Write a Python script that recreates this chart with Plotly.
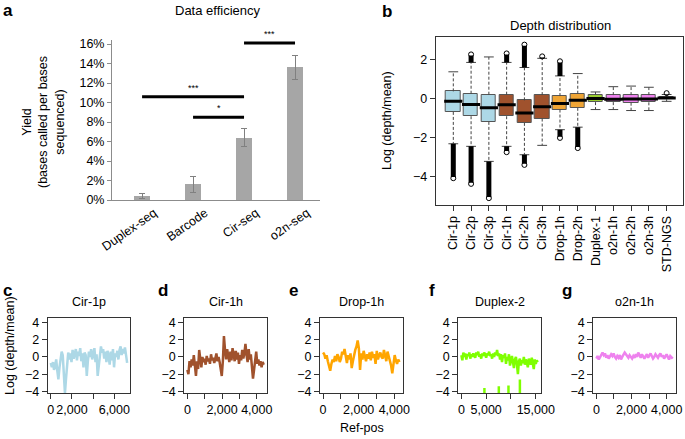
import plotly.graph_objects as go

W, H = 685, 439
def px(x): return x / W
def py(y): return 1 - y / H

FONT = "Liberation Sans, Arial, Helvetica, sans-serif"

# ---------------- Panel a data ----------------
methods = ["Duplex-seq", "Barcode", "Cir-seq", "o2n-seq"]
yield_pct = [0.4, 1.6, 6.4, 13.6]
yield_err = [0.25, 0.8, 0.9, 1.25]
sig_from = [0, 1, 2]
sig_to = [2, 2, 3]
sig_y = [10.6, 8.5, 16.1]
sig_label = ["***", "*", "***"]
yield_ticks = [0, 2, 4, 6, 8, 10, 12, 14, 16]

# ---------------- Panel b data ----------------
samples = ["Cir-1p", "Cir-2p", "Cir-3p", "Cir-1h", "Cir-2h", "Cir-3h",
           "Drop-1h", "Drop-2h", "Duplex-1", "o2n-1h", "o2n-2h", "o2n-3h", "STD-NGS"]
box_q1 = [-0.69, -0.91, -1.20, -0.91, -1.25, -1.03, -0.57, -0.48, -0.19, -0.19, -0.22, -0.20, -0.05]
box_med = [-0.14, -0.31, -0.48, -0.33, -0.74, -0.43, -0.26, -0.09, 0.00, -0.04, -0.03, -0.03, 0.02]
box_q3 = [0.36, 0.24, 0.19, 0.19, -0.10, 0.17, 0.12, 0.24, 0.20, 0.17, 0.17, 0.17, 0.09]
whisk_lo = [-2.32, -2.45, -3.22, -2.45, -2.88, -2.40, -1.60, -1.47, -0.57, -0.57, -0.62, -0.62, -0.15]
whisk_hi = [1.36, 1.84, 2.12, 1.84, 1.58, 2.05, 1.15, 1.27, 0.33, 0.60, 0.63, 0.57, 0.20]
box_colors = ["#ADD8E6", "#ADD8E6", "#ADD8E6", "#A0522D", "#A0522D", "#A0522D",
              "#EFA536", "#EFA536", "#9ACD32", "#EE82EE", "#EE82EE", "#EE82EE", "#EE82EE"]
# outlier clouds: (sample index 1-based, start, extreme)
out_pos = [1, 2, 2, 3, 4, 4, 5, 5, 6, 7, 7, 8, 13]
out_start = [-2.32, 1.84, -2.45, -3.22, 1.84, -2.45, 1.58, -2.88, 2.05, 1.15, -1.60, -1.47, 0.27]
out_end = [-4.08, 2.25, -4.37, -5.10, 2.30, -2.75, 2.75, -3.40, 2.15, 1.90, -2.02, -2.54, 0.27]

# ---------------- Panels c-g data ----------------
cov_names = ["Cir-1p", "Cir-1h", "Drop-1h", "Duplex-2", "o2n-1h"]
cov_colors = ["#ADD8E6", "#A0522D", "#FFA500", "#7FFF00", "#EE82EE"]
cov_step = [103, 62, 67, 200, 70]
cov_cir1p = [-0.7, -1.2, -0.6, -1.5, -1.0, -0.3, -1.6, -2.6, -1.2, -0.2, 0.6, 0.2, -2.0, -4.2, -2.5,
             -0.8, 0.5, -0.3, 0.4, -0.6, 0.8, -0.2, 0.3, 0.9, -0.4, 0.6, 0.1, 1.0, -0.5, 0.4,
             -1.2, 0.5, 0.2, -2.2, -0.5, 0.6, 0.0, 0.9, -0.3, 0.5, 1.0, -0.6, 0.3, -2.2, -0.8,
             0.4, 1.2, 0.5, 0.9, -0.2, 0.6, -0.6, 0.7, 0.1, -0.9, 0.6, -0.4, 0.9, -1.2, 0.4,
             0.0, 0.7, -0.3, 0.8, 1.2, 0.2, 0.9, 0.4, 1.1, 0.2, -0.7]
cov_cir1h = [-1.5, -2.0, -0.5, -1.2, -0.3, -1.0, 0.2, -0.8, -2.2, -0.5, -1.4, 0.8, -0.4, -1.2, 0.0,
             -0.6, -0.2, -0.9, 0.1, -0.5, -0.2, -0.8, 0.3, -0.4, -0.1, -0.7, -0.2, 0.4, -0.5, 0.0,
             -0.6, -1.5, -2.2, -0.5, 2.4, 0.8, -0.3, 0.9, 0.0, -0.6, 0.6, -0.4, 1.0, 0.2, -0.5,
             0.7, -0.3, 0.5, -0.8, 0.2, -0.4, 0.8, -0.2, 0.4, 1.5, 0.2, -0.6, 0.9, -0.3, 0.3,
             -1.0, -2.5, -1.5, -0.2, 0.6, -0.8, -0.3, -1.0, -0.5, -1.2, -0.6, -0.9]
cov_drop1h = [0.5, 0.3, -0.2, 0.2, -0.5, -1.0, -1.6, -0.8, -0.3, -0.6, 0.1, -0.5, 0.3, 0.0, -0.6,
              -0.2, 0.6, 0.3, 0.9, 0.1, -0.7, 0.2, -0.3, 0.4, -1.3, -0.5, 0.3, 0.8, 1.2, 1.9,
              1.0, -1.5, 0.4, -0.3, 0.7, 0.0, -0.5, 0.3, -0.2, 0.5, -0.4, 0.6, -0.1, 0.3, -0.8,
              0.7, -0.3, 0.2, 0.5, 0.0, -0.2, 0.8, 0.3, -0.5, 0.6, 0.1, -0.3, -1.0, -1.9, -0.7,
              0.2, -0.4, -0.8, -0.3, -0.6]
cov_duplex2 = [0.2, -0.4, 0.5, 0.0, 0.4, -0.3, 0.3, 0.1, 0.5, -0.2, 0.3, 0.0, 0.4, 0.2, -0.1,
               0.5, 0.2, 0.6, 0.0, 0.3, -0.2, 0.4, 0.1, 0.5, 0.3, -0.1, 0.4, 0.2, 0.6, 0.1,
               0.3, -0.2, 0.4, 0.0, 0.5, 0.2, 0.8, 0.1, 0.4, -0.3, 0.3, -0.6, 0.2, -0.1, 0.4,
               -0.8, 0.0, -0.4, 0.3, -1.0, -0.2, 0.1, -0.6, -1.3, -0.3, 0.0, -0.8, -2.0, -0.5, -0.2,
               -1.0, -0.4, -0.7, 0.0, -0.9, -0.3, -0.6, -1.2, -0.2, -0.5, -0.9, -0.1, -0.6, -1.4, -0.3,
               -0.8, -0.4, -0.6]
cov_o2n1h = [-0.2, 0.1, -0.3, 0.0, 0.3, 0.5, 0.2, 0.4, -0.1, 0.2, -0.2, 0.0, 0.3, 0.1, 0.4,
             0.0, -0.2, 0.1, -0.1, 0.2, -0.3, 0.0, 0.2, 0.5, 0.3, 0.0, -0.1, 0.2, 0.0, -0.2,
             0.1, -0.1, 0.3, 0.0, 0.5, 0.2, -0.1, 0.3, 0.0, -0.2, 0.1, 0.3, -0.1, 0.2, 0.4,
             0.1, -0.2, 0.0, 0.3, 0.1, -0.1, 0.2, 0.4, 0.0, 0.2, -0.2, 0.1, 0.3, 0.0, -0.3,
             0.1, 0.0, -0.2]
cov_series = [cov_cir1p, cov_cir1h, cov_drop1h, cov_duplex2, cov_o2n1h]
# Duplex-2 zero-coverage drops (x position, top value)
drop_x = [4650, 7550, 9500, 11800]
drop_top = [-3.6, -3.4, -3.3, -2.6]
drop_bottom = [-5.0, -5.0, -5.0, -5.0]
cov_xticks = [[0, 2000, 4000, 6000], [0, 1000, 2000, 3000, 4000], [0, 1000, 2000, 3000, 4000],
              [0, 5000, 10000, 15000], [0, 1000, 2000, 3000, 4000]]
cov_xticktext = [["0", "2,000", "", "6,000"], ["0", "", "2,000", "", "4,000"],
                 ["0", "", "2,000", "", "4,000"], ["0", "5,000", "", "15,000"],
                 ["0", "", "2,000", "", "4,000"]]

fig = go.Figure()

# ---- Panel a ----
fig.add_trace(go.Bar(x=list(range(len(methods))), y=yield_pct, width=0.32,
                     marker=dict(color="#A6A6A6", line=dict(width=0)),
                     error_y=dict(type="data", array=yield_err, color="#808080", thickness=1, width=3),
                     xaxis="x", yaxis="y", showlegend=False))
sx, sy = [], []
for a, b, yv in zip(sig_from, sig_to, sig_y):
    sx += [a, b, None]
    sy += [yv, yv, None]
fig.add_trace(go.Scatter(x=sx, y=sy, mode="lines", line=dict(color="black", width=3),
                         xaxis="x", yaxis="y", showlegend=False))

# axis a geometry (pixels) for placing star labels
A_X0, A_XPX, A_Y0, A_YPX = 142.0, 51.0, 200.0, 9.75
annotations = []
for a, b, yv, lab in zip(sig_from, sig_to, sig_y, sig_label):
    xp = A_X0 + (a + b) / 2 * A_XPX
    yp = A_Y0 - yv * A_YPX - 9
    annotations.append(dict(x=px(xp), y=py(yp), xref="paper", yref="paper", text=lab, showarrow=False,
                            xanchor="center", yanchor="middle",
                            font=dict(size=9, color="black", family=FONT)))

# ---- Panel b ----
pos = list(range(1, len(samples) + 1))
wx, wy = [], []
for p, lo, hi, a, b in zip(pos, whisk_lo, whisk_hi, box_q1, box_q3):
    wx += [p, p, None, p, p, None]
    wy += [b, hi, None, a, lo, None]
fig.add_trace(go.Scatter(x=wx, y=wy, mode="lines", line=dict(color="#444444", width=1, dash="3px,2px"),
                         xaxis="x2", yaxis="y2", showlegend=False))
fig.add_trace(go.Scatter(x=pos + pos, y=whisk_hi + whisk_lo, mode="markers",
                         marker=dict(symbol="line-ew", size=7, line=dict(width=1, color="#444444")),
                         xaxis="x2", yaxis="y2", showlegend=False))
fig.add_trace(go.Bar(x=pos, y=[b - a for a, b in zip(box_q1, box_q3)], base=box_q1, width=0.8,
                     marker=dict(color=box_colors, line=dict(width=1, color="#555555")),
                     xaxis="x2", yaxis="y2", showlegend=False))
fig.add_trace(go.Scatter(x=pos, y=box_med, mode="markers",
                         marker=dict(symbol="line-ew", size=13, line=dict(width=3, color="black")),
                         xaxis="x2", yaxis="y2", showlegend=False))
ox, oy = [], []
for p, s, e in zip(out_pos, out_start, out_end):
    if s != e:
        ox += [p, p, None]
        oy += [s, e + (0.06 if e < s else -0.06), None]
fig.add_trace(go.Scatter(x=ox, y=oy, mode="lines", line=dict(color="black", width=5),
                         xaxis="x2", yaxis="y2", showlegend=False))
fig.add_trace(go.Scatter(x=out_pos, y=out_end, mode="markers",
                         marker=dict(symbol="circle-open", size=5, color="black", line=dict(width=1)),
                         xaxis="x2", yaxis="y2", showlegend=False))

# ---- Panels c-g ----
cov_left = [47.7, 184.3, 320.0, 458.3, 593.3]
cov_width = 82.5
cov_top, cov_bottom = 318.3, 393.3
for i, (vals, col, step) in enumerate(zip(cov_series, cov_colors, cov_step)):
    n = i + 3
    xs = [k * step for k in range(len(vals))]
    fig.add_trace(go.Scatter(x=xs, y=vals, mode="lines", line=dict(color=col, width=2.5),
                             xaxis=f"x{n}", yaxis=f"y{n}", showlegend=False))
    if cov_names[i] == "Duplex-2":
        dx_, dy_ = [], []
        for xx, t, bt in zip(drop_x, drop_top, drop_bottom):
            dx_ += [xx, xx, None]
            dy_ += [t, bt, None]
        fig.add_trace(go.Scatter(x=dx_, y=dy_, mode="lines", line=dict(color=col, width=2.5),
                                 xaxis=f"x{n}", yaxis=f"y{n}", showlegend=False))

axis_common = dict(showgrid=False, zeroline=False, color="black", automargin=False,
                   tickfont=dict(family=FONT, size=12.5, color="black"))

layout = dict(
    template="none",
    width=W, height=H, margin=dict(l=0, r=0, t=0, b=0, pad=0),
    paper_bgcolor="white", plot_bgcolor="white",
    font=dict(family=FONT, size=12, color="black"),
    showlegend=False, bargap=0,
    xaxis=dict(domain=[px(112), px(320)], range=[-0.59, 3.49], anchor="y", automargin=False,
               tickvals=list(range(len(methods))), ticktext=methods, tickangle=-35,
               ticklabelshift=12, ticklabelstandoff=0,
               showline=True, linecolor="#8c8c8c", linewidth=1, ticks="",
               showgrid=False, zeroline=False, tickfont=dict(family=FONT, size=12.5, color="black")),
    yaxis=dict(domain=[py(200), py(40.1)], range=[0, 16.4], anchor="x", automargin=False,
               tickvals=yield_ticks, ticktext=[f"{v}%" for v in yield_ticks],
               showline=True, linecolor="#8c8c8c", linewidth=1,
               ticks="outside", ticklen=4, tickcolor="#8c8c8c",
               showgrid=False, zeroline=False, tickfont=dict(family=FONT, size=12.5, color="black")),
    xaxis2=dict(domain=[px(435.7), px(683)], range=[0.01, 13.92], anchor="y2",
                tickvals=pos, ticktext=samples, tickangle=-90, showline=True, mirror=True,
                linecolor="#333333", linewidth=1, ticks="outside", ticklen=5, tickcolor="#333333",
                **axis_common),
    yaxis2=dict(domain=[py(205), py(37)], range=[-5.45, 3.14], anchor="x2",
                tickvals=[-4, -2, 0, 2], ticktext=["\u22124", "\u22122", "0", "2"],
                showline=True, mirror=True, linecolor="#333333", linewidth=1,
                ticks="outside", ticklen=5, tickcolor="#333333", **axis_common),
)

for i in range(5):
    n = i + 3
    L = (len(cov_series[i]) - 1) * cov_step[i]
    layout[f"xaxis{n}"] = dict(domain=[px(cov_left[i]), px(cov_left[i] + cov_width)],
                               range=[-0.04 * L, 1.04 * L], anchor=f"y{n}", tickangle=0,
                               tickvals=cov_xticks[i], ticktext=cov_xticktext[i],
                               showline=True, mirror=True, linecolor="#333333", linewidth=1,
                               ticks="outside", ticklen=5, tickcolor="#333333", **axis_common)
    layout[f"yaxis{n}"] = dict(domain=[py(cov_bottom), py(cov_top)], range=[-4.2, 4.45], anchor=f"x{n}",
                               tickvals=[-4, -2, 0, 2, 4], ticktext=["\u22124", "\u22122", "0", "2", "4"],
                               showline=True, mirror=True, linecolor="#333333", linewidth=1,
                               ticks="outside", ticklen=5, tickcolor="#333333", **axis_common)
    annotations.append(dict(x=px(cov_left[i] + cov_width / 2), y=py(301.5), xref="paper", yref="paper",
                            text=cov_names[i], showarrow=False, xanchor="center", yanchor="middle",
                            font=dict(family=FONT, size=12.5, color="black")))

letter_pos = [("a", 8, 11), ("b", 387, 12), ("c", 8, 290), ("d", 163, 290), ("e", 293, 290),
              ("f", 432, 290), ("g", 567, 290)]
for t, x, y in letter_pos:
    annotations.append(dict(x=px(x), y=py(y), xref="paper", yref="paper", text=f"<b>{t}</b>",
                            showarrow=False, xanchor="center", yanchor="middle",
                            font=dict(family=FONT, size=17, color="black")))

text_items = [
    ("Data efficiency", 218, 11, 0, 13),
    ("Depth distribution", 560, 25, 0, 13),
    ("Yield<br>(bases called per bases<br>sequenced)", 44, 122, -90, 12.5),
    ("Log (depth/mean)", 387, 120, -90, 12.5),
    ("Log (depth/mean)", 10, 346, -90, 12.5),
    ("Ref-pos", 362, 428, 0, 12.5),
]
for t, x, y, ang, sz in text_items:
    annotations.append(dict(x=px(x), y=py(y), xref="paper", yref="paper", text=t, textangle=ang,
                            showarrow=False, xanchor="center", yanchor="middle",
                            font=dict(family=FONT, size=sz, color="black")))

layout["annotations"] = annotations
fig.update_layout(**layout)
fig.write_html("out.html", config={"displayModeBar": False},
               post_script="document.body.style.margin='0';document.body.style.padding='0';")
